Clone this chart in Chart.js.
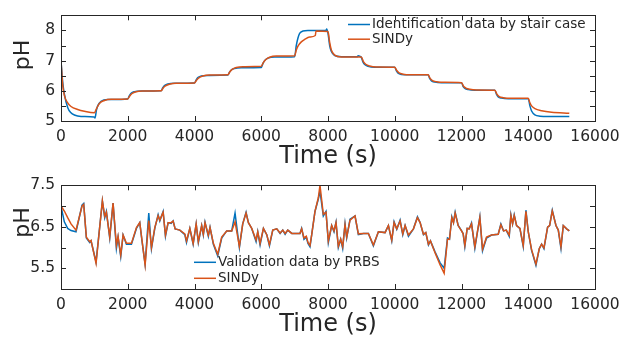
<!DOCTYPE html>
<html>
<head>
<meta charset="utf-8">
<script src="https://cdn.jsdelivr.net/npm/chart.js@4.4.0/dist/chart.umd.min.js"></script>
<style>
  html, body { margin: 0; padding: 0; background: #fff; }
  .box { position: absolute; left: 0; width: 636px; }
</style>
</head>
<body>
<div class="box" style="top:0;height:171px"><canvas id="topChart" width="636" height="171"></canvas></div>
<div class="box" style="top:170px;height:169px"><canvas id="botChart" width="636" height="169"></canvas></div>
<script>
// ---- top: identification (stair case) ----
const identTime = [0, 50, 100, 200, 300, 400, 600, 990, 1020, 1060, 1100, 1200, 1400, 2000,
  2050, 2100, 2200, 2400, 3000, 3050, 3100, 3200, 3400, 4000, 4050, 4100, 4200, 4400,
  5000, 5050, 5100, 5200, 5400, 6000, 6050, 6100, 6200, 6400, 7000, 7050, 7100, 7150, 7250, 7400,
  7940, 7960, 8000, 8050, 8100, 8200, 8400, 8880, 8900, 8960, 9000, 9050, 9100, 9200, 9400,
  10000, 10050, 10100, 10200, 10400, 11000, 11050, 11100, 11200, 11400,
  12000, 12050, 12100, 12200, 12400, 13000, 13050, 13100, 13200, 13400,
  14000, 14050, 14100, 14200, 14350, 14600, 15230];
const identPH = [7.0, 6.3, 5.9, 5.45, 5.27, 5.2, 5.15, 5.13, 5.1, 5.35, 5.5, 5.65, 5.71, 5.73,
  5.84, 5.92, 5.97, 5.99, 6.0, 6.1, 6.17, 6.23, 6.25, 6.26, 6.36, 6.44, 6.49, 6.51,
  6.52, 6.62, 6.69, 6.74, 6.76, 6.77, 6.9, 7.0, 7.08, 7.12, 7.13, 7.5, 7.75, 7.9, 7.98, 8.0,
  8.0, 8.05, 7.9, 7.5, 7.3, 7.17, 7.13, 7.13, 7.16, 7.14, 7.1, 6.95, 6.87, 6.81, 6.78,
  6.78, 6.66, 6.58, 6.54, 6.53, 6.53, 6.4, 6.33, 6.29, 6.27,
  6.27, 6.14, 6.08, 6.04, 6.02, 6.02, 5.88, 5.8, 5.76, 5.74,
  5.74, 5.5, 5.33, 5.2, 5.16, 5.15, 5.15];

const sindyTime = [0, 50, 100, 200, 300, 500, 700, 1000, 1060, 1150, 1300, 1500, 2000,
  2060, 2130, 2250, 2450, 3000, 3060, 3130, 3250, 3450, 4000, 4060, 4130, 4250, 4450,
  5000, 5060, 5130, 5250, 5450, 6000, 6060, 6130, 6250, 6450, 7000, 7050, 7100, 7200, 7300, 7450, 7620, 7640, 8000,
  8050, 8100, 8200, 8400, 9000, 9060, 9130, 9250, 9450,
  10000, 10060, 10130, 10250, 10450, 11000, 11060, 11130, 11250, 11450,
  12000, 12060, 12130, 12250, 12450, 13000, 13060, 13130, 13250, 13450,
  14000, 14050, 14100, 14200, 14400, 14700, 15230];
const sindyPH = [7.0, 6.2, 5.85, 5.6, 5.48, 5.38, 5.32, 5.27, 5.4, 5.58, 5.68, 5.72, 5.73,
  5.83, 5.91, 5.97, 5.99, 6.0, 6.09, 6.16, 6.22, 6.25, 6.26, 6.35, 6.43, 6.49, 6.52,
  6.53, 6.63, 6.71, 6.77, 6.8, 6.81, 6.93, 7.03, 7.11, 7.15, 7.16, 7.35, 7.48, 7.62, 7.7, 7.78, 7.83, 7.98, 7.96,
  7.6, 7.35, 7.18, 7.12, 7.12, 6.97, 6.88, 6.82, 6.79,
  6.78, 6.67, 6.59, 6.55, 6.53, 6.53, 6.41, 6.34, 6.3, 6.28,
  6.27, 6.15, 6.09, 6.05, 6.03, 6.02, 5.89, 5.81, 5.77, 5.75,
  5.75, 5.6, 5.5, 5.41, 5.34, 5.29, 5.26];

// ---- bottom: validation (PRBS) ----
const valTime = [0, 100, 200, 300, 450, 630, 680, 760, 860, 900, 1050, 1240, 1310, 1360, 1460, 1560,
  1660, 1710, 1790, 1860, 1960, 2110, 2260, 2360, 2420, 2520, 2630, 2710, 2810, 2910, 2960, 3060,
  3130, 3210, 3300, 3360, 3420, 3560, 3710, 3760, 3860, 3960, 4050, 4115, 4215, 4265, 4315, 4415,
  4465, 4565, 4695, 4815, 4965, 5115, 5215, 5345, 5445, 5545, 5615, 5715, 5845, 5895, 5965, 6065,
  6165, 6245, 6345, 6465, 6565, 6645, 6715, 6795, 6915, 7160, 7210, 7280, 7350, 7400, 7460, 7510,
  7610, 7710, 7760, 7860, 7940, 8010, 8110, 8180, 8240, 8310, 8380, 8440, 8510, 8560, 8660, 8810,
  8910, 9060, 9210, 9360, 9510, 9710, 9810, 9910, 9980, 10060, 10160, 10240, 10310, 10410, 10560, 10680,
  10760, 10860, 10930, 11010, 11070, 11210, 11360, 11480, 11580, 11640, 11710, 11760, 11810, 11900, 12000, 12050,
  12100, 12170, 12230, 12300, 12400, 12550, 12630, 12750, 12900, 13100, 13180, 13260, 13340, 13430, 13480, 13530,
  13580, 13650, 13750, 13850, 13930, 14000, 14100, 14230, 14330, 14400, 14470, 14580, 14640, 14720, 14830, 14900,
  14980, 15050, 15150, 15230];
const valPH = [7.0, 6.62, 6.46, 6.41, 6.38, 7.02, 7.06, 6.23, 6.12, 6.16, 5.65, 7.12, 6.72, 6.87, 6.23, 7.07,
  5.98, 6.25, 5.78, 6.3, 6.08, 6.08, 6.46, 6.6, 6.2, 5.6, 6.83, 5.97, 6.46, 6.79, 6.64, 6.87,
  6.27, 6.6, 6.58, 6.64, 6.45, 6.42, 6.31, 6.12, 6.46, 6.08, 6.57, 6.12, 6.53, 6.3, 6.61, 6.27,
  6.49, 6.08, 5.8, 6.23, 6.4, 6.4, 6.83, 6.0, 6.57, 6.85, 6.6, 6.46, 6.14, 6.38, 6.06, 6.46,
  6.31, 6.04, 6.42, 6.45, 6.34, 6.42, 6.32, 6.42, 6.34, 6.34, 6.46, 6.2, 6.25, 6.1, 6.02, 6.3,
  6.87, 7.17, 7.36, 6.76, 6.87, 6.12, 6.53, 6.38, 6.61, 6.0, 6.2, 5.98, 6.57, 6.23, 6.68, 6.76,
  6.31, 6.34, 6.34, 6.04, 6.38, 6.36, 6.53, 6.16, 6.62, 6.44, 6.66, 6.31, 6.53, 6.27, 6.45, 6.74,
  6.6, 6.31, 6.36, 6.06, 6.16, 5.89, 5.63, 5.5, 6.23, 6.2, 6.74, 6.6, 6.85, 6.53, 6.41, 6.33,
  6.02, 6.46, 6.45, 6.59, 5.98, 6.74, 5.92, 6.23, 6.3, 6.32, 6.57, 6.4, 6.42, 6.27, 6.79, 6.57,
  6.79, 6.53, 6.46, 6.02, 6.9, 6.38, 5.93, 5.57, 5.97, 6.08, 5.97, 6.49, 6.53, 6.9, 6.53, 6.42,
  5.98, 6.53, 6.45, 6.4];
const valSindyPH = [7.0, 6.88, 6.72, 6.57, 6.42, 7.0, 7.04, 6.25, 6.14, 6.17, 5.62, 7.13, 6.75, 6.85, 6.26, 7.07,
  6.05, 6.27, 5.82, 6.3, 6.1, 6.1, 6.48, 6.6, 6.22, 5.58, 6.65, 6.0, 6.48, 6.77, 6.66, 6.85,
  6.3, 6.6, 6.6, 6.64, 6.45, 6.42, 6.33, 6.16, 6.46, 6.1, 6.57, 6.14, 6.53, 6.32, 6.6, 6.3,
  6.48, 6.1, 5.84, 6.25, 6.4, 6.4, 6.62, 6.03, 6.57, 6.83, 6.6, 6.46, 6.18, 6.38, 6.1, 6.46,
  6.31, 6.07, 6.42, 6.45, 6.35, 6.42, 6.34, 6.42, 6.34, 6.34, 6.45, 6.23, 6.27, 6.12, 6.05, 6.3,
  6.87, 7.2, 7.5, 6.8, 6.85, 6.16, 6.53, 6.4, 6.6, 6.03, 6.2, 6.02, 6.55, 6.25, 6.66, 6.76,
  6.33, 6.34, 6.34, 6.06, 6.38, 6.36, 6.53, 6.18, 6.6, 6.45, 6.64, 6.33, 6.53, 6.3, 6.45, 6.72,
  6.6, 6.32, 6.36, 6.08, 6.16, 5.87, 5.58, 5.38, 6.2, 6.2, 6.72, 6.6, 6.83, 6.53, 6.4, 6.33,
  6.05, 6.46, 6.45, 6.57, 6.02, 6.72, 5.96, 6.25, 6.3, 6.32, 6.55, 6.4, 6.42, 6.3, 6.77, 6.57,
  6.77, 6.53, 6.46, 6.05, 6.87, 6.38, 5.95, 5.6, 5.97, 6.08, 5.99, 6.49, 6.53, 6.88, 6.53, 6.42,
  6.02, 6.53, 6.45, 6.4];

const xTicks = [0, 2000, 4000, 6000, 8000, 10000, 12000, 14000, 16000];
const blue = '#0072BD';
const orange = '#D95319';
const axisColor = '#262626';
const fontFam = '"DejaVu Sans", Verdana, sans-serif';

const pts = (t, v) => t.map((x, i) => ({ x: x, y: v[i] }));

// box with inward ticks on all four sides, MATLAB style
const boxTicks = {
  id: 'boxTicks',
  afterDraw(chart) {
    const { ctx, chartArea: a, scales: { x, y } } = chart;
    const len = 5;
    ctx.save();
    ctx.strokeStyle = axisColor;
    ctx.lineWidth = 1;
    ctx.strokeRect(Math.round(a.left) + 0.5, Math.round(a.top) + 0.5,
      Math.round(a.right) - Math.round(a.left), Math.round(a.bottom) - Math.round(a.top));
    ctx.beginPath();
    x.ticks.forEach(t => {
      const px = Math.round(x.getPixelForValue(t.value)) + 0.5;
      ctx.moveTo(px, a.bottom); ctx.lineTo(px, a.bottom - len);
      ctx.moveTo(px, a.top); ctx.lineTo(px, a.top + len);
    });
    y.ticks.forEach(t => {
      const py = Math.round(y.getPixelForValue(t.value)) + 0.5;
      ctx.moveTo(a.left, py); ctx.lineTo(a.left + len, py);
      ctx.moveTo(a.right, py); ctx.lineTo(a.right - len, py);
    });
    ctx.stroke();

    // y title
    const o = chart.options.plugins.extras;
    ctx.fillStyle = axisColor;
    ctx.font = '22px ' + fontFam;
    ctx.translate(o.yTitleX, o.yTitleY);
    ctx.rotate(-Math.PI / 2);
    ctx.textAlign = 'center';
    ctx.textBaseline = 'middle';
    ctx.fillText('pH', 0, 0);
    ctx.setTransform(1, 0, 0, 1, 0, 0);

    // legend
    ctx.font = '13.5px ' + fontFam;
    ctx.textAlign = 'left';
    ctx.lineWidth = 1.5;
    chart.data.datasets.forEach((ds, i) => {
      const ly = o.legY + i * o.legGap;
      ctx.strokeStyle = ds.borderColor;
      ctx.beginPath();
      ctx.moveTo(o.legX, ly); ctx.lineTo(o.legX + 22, ly);
      ctx.stroke();
      ctx.fillStyle = axisColor;
      ctx.fillText(ds.label, o.legX + 24, ly);
    });
    ctx.restore();
  }
};

function makeOptions(yMin, yMax, showLabel, padTop, xHeight, extras) {
  return {
    responsive: false,
    animation: false,
    devicePixelRatio: 1,
    layout: { padding: { top: padTop, right: 41, left: 0, bottom: 0 } },
    plugins: { legend: { display: false }, tooltip: { enabled: false }, extras: extras },
    elements: { point: { radius: 0 }, line: { borderWidth: 1.5 } },
    scales: {
      x: {
        type: 'linear', min: 0, max: 16000,
        afterBuildTicks: s => { s.ticks = xTicks.map(v => ({ value: v })); },
        grid: { display: false, drawTicks: false },
        border: { display: false },
        ticks: { color: axisColor, font: { family: fontFam, size: 15.5 }, padding: 7, maxRotation: 0,
          autoSkip: false, callback: v => String(v) },
        title: { display: true, text: 'Time (s)', color: axisColor,
          font: { family: fontFam, size: 24 }, padding: { top: 0, bottom: 0 } },
        afterFit: s => { s.height = xHeight; }
      },
      y: {
        min: yMin, max: yMax,
        grid: { display: false, drawTicks: false },
        border: { display: false },
        ticks: { stepSize: 0.5, color: axisColor, font: { family: fontFam, size: 15.5 }, padding: 6,
          autoSkip: false, callback: showLabel },
        afterFit: s => { s.width = 61; }
      }
    }
  };
}

new Chart(document.getElementById('topChart'), {
  type: 'line',
  data: {
    datasets: [
      { label: 'Identification data by stair case', data: pts(identTime, identPH),
        borderColor: blue, cubicInterpolationMode: 'monotone', order: 1 },
      { label: 'SINDy', data: pts(sindyTime, sindyPH),
        borderColor: orange, cubicInterpolationMode: 'monotone', order: 0 }
    ]
  },
  options: makeOptions(5, 8.5, v => (v % 1 === 0 ? String(v) : ''), 10, 50,
    { yTitleX: 23, yTitleY: 55, legX: 348, legY: 24.5, legGap: 14.7 }),
  plugins: [boxTicks]
});

new Chart(document.getElementById('botChart'), {
  type: 'line',
  data: {
    datasets: [
      { label: 'Validation data by PRBS', data: pts(valTime, valPH), borderColor: blue, order: 1 },
      { label: 'SINDy', data: pts(valTime, valSindyPH), borderColor: orange, order: 0 }
    ]
  },
  options: makeOptions(5, 7.5, v => (Math.round(v * 2) % 2 === 1 ? v.toFixed(1) : ''), 9, 50,
    { yTitleX: 23, yTitleY: 52.5, legX: 194, legY: 92.3, legGap: 16 }),
  plugins: [boxTicks]
});
</script>
</body>
</html>
